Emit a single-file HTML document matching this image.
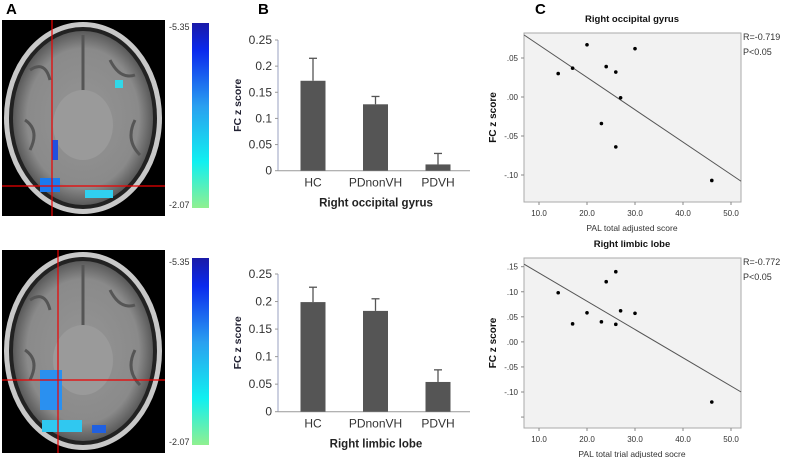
<!DOCTYPE html>
<html><head><meta charset="utf-8"><style>
body{margin:0;background:#fff;}
svg{display:block;font-family:"Liberation Sans",sans-serif;}
</style></head><body>
<svg id="fig" width="785" height="458" viewBox="0 0 785 458" xmlns="http://www.w3.org/2000/svg">
<defs>
<linearGradient id="cb" x1="0" y1="0" x2="0" y2="1">
<stop offset="0" stop-color="#1a1aa8"/><stop offset="0.15" stop-color="#0a2aee"/>
<stop offset="0.45" stop-color="#2aa0f0"/><stop offset="0.75" stop-color="#10f0f0"/>
<stop offset="1" stop-color="#90f090"/></linearGradient>
<radialGradient id="br" cx="0.5" cy="0.5" r="0.5">
<stop offset="0" stop-color="#959595"/><stop offset="0.8" stop-color="#8a8a8a"/><stop offset="1" stop-color="#5a5a5a"/></radialGradient>
</defs>
<g id="panelA">
<text x="6" y="14" font-size="15" font-weight="bold">A</text>
<g>
<rect x="2" y="20" width="163" height="196" fill="#000"/>
<ellipse cx="83" cy="118" rx="79" ry="96" fill="#c8c8c8"/>
<ellipse cx="83" cy="118" rx="74" ry="91" fill="#222"/>
<ellipse cx="83" cy="118" rx="70" ry="87" fill="url(#br)"/>
<path d="M30 70 Q45 60 50 80 M110 60 Q120 80 135 75 M25 120 Q40 130 30 150 M135 120 Q125 140 140 155 M83 35 L83 100" stroke="#555" stroke-width="3" fill="none"/>
<ellipse cx="83" cy="125" rx="30" ry="35" fill="#9a9a9a"/>
<rect x="40" y="178" width="20" height="14" fill="#1a7af0"/>
<rect x="85" y="190" width="28" height="8" fill="#30d0f0"/>
<rect x="115" y="80" width="8" height="8" fill="#30d8e8"/>
<rect x="52" y="140" width="6" height="20" fill="#2050e0"/>
<line x1="52" y1="20" x2="52" y2="216" stroke="#e00" stroke-width="1.2"/>
<line x1="2" y1="186" x2="165" y2="186" stroke="#e00" stroke-width="1.2"/>
</g>
<rect x="192" y="23" width="17" height="185" fill="url(#cb)"/>
<text x="169" y="30" font-size="9" fill="#333">-5.35</text>
<text x="169" y="208" font-size="9" fill="#333">-2.07</text>
<g>
<rect x="2" y="250" width="163" height="203" fill="#000"/>
<ellipse cx="83" cy="351" rx="79" ry="99" fill="#c8c8c8"/>
<ellipse cx="83" cy="351" rx="74" ry="94" fill="#222"/>
<ellipse cx="83" cy="351" rx="70" ry="90" fill="url(#br)"/>
<path d="M30 300 Q45 290 50 310 M110 290 Q120 310 135 305 M25 350 Q40 360 30 380 M135 350 Q125 370 140 385 M83 265 L83 330" stroke="#555" stroke-width="3" fill="none"/>
<ellipse cx="83" cy="360" rx="30" ry="35" fill="#9a9a9a"/>
<rect x="40" y="370" width="22" height="40" fill="#2a90f0"/>
<rect x="42" y="420" width="40" height="12" fill="#30c8f0"/>
<rect x="92" y="425" width="14" height="8" fill="#2060e0"/>
<line x1="58" y1="250" x2="58" y2="453" stroke="#e00" stroke-width="1.2"/>
<line x1="2" y1="380" x2="165" y2="380" stroke="#e00" stroke-width="1.2"/>
</g>
<rect x="192" y="258" width="17" height="187" fill="url(#cb)"/>
<text x="169" y="265" font-size="9" fill="#333">-5.35</text>
<text x="169" y="445" font-size="9" fill="#333">-2.07</text>
</g>
<text x="258" y="14" font-size="15" font-weight="bold">B</text>
<text x="535" y="14" font-size="15" font-weight="bold">C</text>
<g id="bars"></g>
<g id="scat"></g>
</svg>
<script>
const barCategories = ["HC","PDnonVH","PDVH"];
const barValues1 = [0.172,0.127,0.012];
const barErrors1 = [0.043,0.015,0.021];
const barValues2 = [0.199,0.183,0.054];
const barErrors2 = [0.027,0.022,0.022];
const barTicks = [0,0.05,0.1,0.15,0.2,0.25];
const barTickLabels = ["0","0.05","0.1","0.15","0.2","0.25"];

const scatX1 = [14,17,20,24,26,30,27,23,26,46];
const scatY1 = [0.030,0.037,0.067,0.039,0.032,0.062,-0.001,-0.034,-0.064,-0.107];
const scatX2 = [14,17,20,23,24,26,26,27,30,46];
const scatY2 = [0.098,0.036,0.058,0.040,0.120,0.140,0.035,0.062,0.057,-0.120];
const xTicks = [10,20,30,40,50];
const yTicks1 = [0.05,0,-0.05,-0.10];
const yTickLabels1 = [".05",".00","-.05","-.10"];
const yTicks2 = [0.15,0.10,0.05,0,-0.05,-0.10,-0.15];
const yTickLabels2 = [".15",".10",".05",".00","-.05","-.10",""];
const fit1 = [[6.9,0.0795],[52.1,-0.108]];
const fit2 = [[6.9,0.155],[52.1,-0.10]];

const NS="http://www.w3.org/2000/svg";
function mk(p,t,a,txt){const e=document.createElementNS(NS,t);for(const k in a)e.setAttribute(k,a[k]);if(txt!==undefined)e.textContent=txt;p.appendChild(e);return e;}

function barChart(g,y0,y25,vals,errs,title,nm){
  const ys=v=>y0+(y25-y0)*v/0.25;
  const xs=i=>313+i*62.5;
  const grp=mk(g,'g',{});
  
  
  mk(grp,'line',{x1:278,y1:ys(0.25),x2:278,y2:y0,stroke:'#9aa0c0'});
  mk(grp,'line',{x1:278,y1:y0,x2:470,y2:y0,stroke:'#999'});
  barTicks.forEach((t,i)=>{
    mk(grp,'line',{x1:275,y1:ys(t),x2:278,y2:ys(t),stroke:'#999'});
    mk(grp,'text',{x:272,y:ys(t)+4,'font-size':12,'text-anchor':'end',fill:'#333'},barTickLabels[i]);
  });
  vals.forEach((v,i)=>{
    const b=mk(grp,'rect',{x:xs(i)-12.5,y:ys(v),width:25,height:y0-ys(v),fill:'#555'});
    
    
    const top=ys(v+errs[i]);
    mk(grp,'line',{x1:xs(i),y1:ys(v),x2:xs(i),y2:top,stroke:'#555','stroke-width':1.3});
    mk(grp,'line',{x1:xs(i)-4,y1:top,x2:xs(i)+4,y2:top,stroke:'#555','stroke-width':1.3});
    mk(grp,'text',{x:xs(i),y:y0+16,'font-size':12,'text-anchor':'middle',fill:'#333'},barCategories[i]);
  });
  mk(grp,'text',{x:376,y:y0+36,'font-size':11.5,'font-weight':'bold','text-anchor':'middle',fill:'#222'},title);
  const cy=(ys(0.25)+y0)/2;
  mk(grp,'text',{x:241,y:cy,'font-size':10.5,'font-weight':'bold','text-anchor':'middle',fill:'#223',transform:`rotate(-90 241 ${cy})`},'FC z score');
}
const bars=document.getElementById('bars');
barChart(bars,170.7,40,barValues1,barErrors1,'Right occipital gyrus','bar-chart-occipital');
barChart(bars,411.7,274,barValues2,barErrors2,'Right limbic lobe','bar-chart-limbic');

function scatter(g,top,bot,yA,yAv,yB,yBv,xs_,ys_,yt,ytl,fit,title,xlab,R,nm){
  const sx=v=>539+(v-10)*4.8;
  const sy=v=>yA+(yB-yA)*(v-yAv)/(yBv-yAv);
  const grp=mk(g,'g',{});
  
  
  mk(grp,'rect',{x:524,y:top,width:217,height:bot-top,fill:'#f2f2f2',stroke:'#aaa'});
  yt.forEach((t,i)=>{
    mk(grp,'line',{x1:521,y1:sy(t),x2:524,y2:sy(t),stroke:'#888'});
    mk(grp,'text',{x:518,y:sy(t)+3,'font-size':8,'text-anchor':'end',fill:'#333'},ytl[i]);
  });
  xTicks.forEach(t=>{
    mk(grp,'line',{x1:sx(t),y1:bot,x2:sx(t),y2:bot+3,stroke:'#888'});
    mk(grp,'text',{x:sx(t),y:bot+14,'font-size':8,'text-anchor':'middle',fill:'#333'},t.toFixed(1));
  });
  const l=mk(grp,'line',{x1:sx(fit[0][0]),y1:sy(fit[0][1]),x2:sx(fit[1][0]),y2:sy(fit[1][1]),stroke:'#555'});
  
  
  xs_.forEach((x,i)=>{
    const c=mk(grp,'circle',{cx:sx(x),cy:sy(ys_[i]),r:1.8,fill:'#000'});
    
    
  });
  mk(grp,'text',{x:632,y:top-11,'font-size':9.5,'font-weight':'bold','text-anchor':'middle',fill:'#111'},title);
  mk(grp,'text',{x:632,y:bot+29,'font-size':8.5,'text-anchor':'middle',fill:'#333'},xlab);
  mk(grp,'text',{x:743,y:top+7,'font-size':9,fill:'#333'},R);
  mk(grp,'text',{x:743,y:top+22,'font-size':9,fill:'#333'},'P<0.05');
  const cy=(top+bot)/2;
  mk(grp,'text',{x:496,y:cy,'font-size':10,'font-weight':'bold','text-anchor':'middle',fill:'#111',transform:`rotate(-90 496 ${cy})`},'FC z score');
}
const sc=document.getElementById('scat');
scatter(sc,33,202,58,0.05,175,-0.10,scatX1,scatY1,yTicks1,yTickLabels1,fit1,'Right occipital gyrus','PAL total adjusted score','R=-0.719','scatter-occipital');
scatter(sc,258,428,266.7,0.15,392,-0.10,scatX2,scatY2,yTicks2,yTickLabels2,fit2,'Right limbic lobe','PAL total trial adjusted socre','R=-0.772','scatter-limbic');
</script>
</body></html>
